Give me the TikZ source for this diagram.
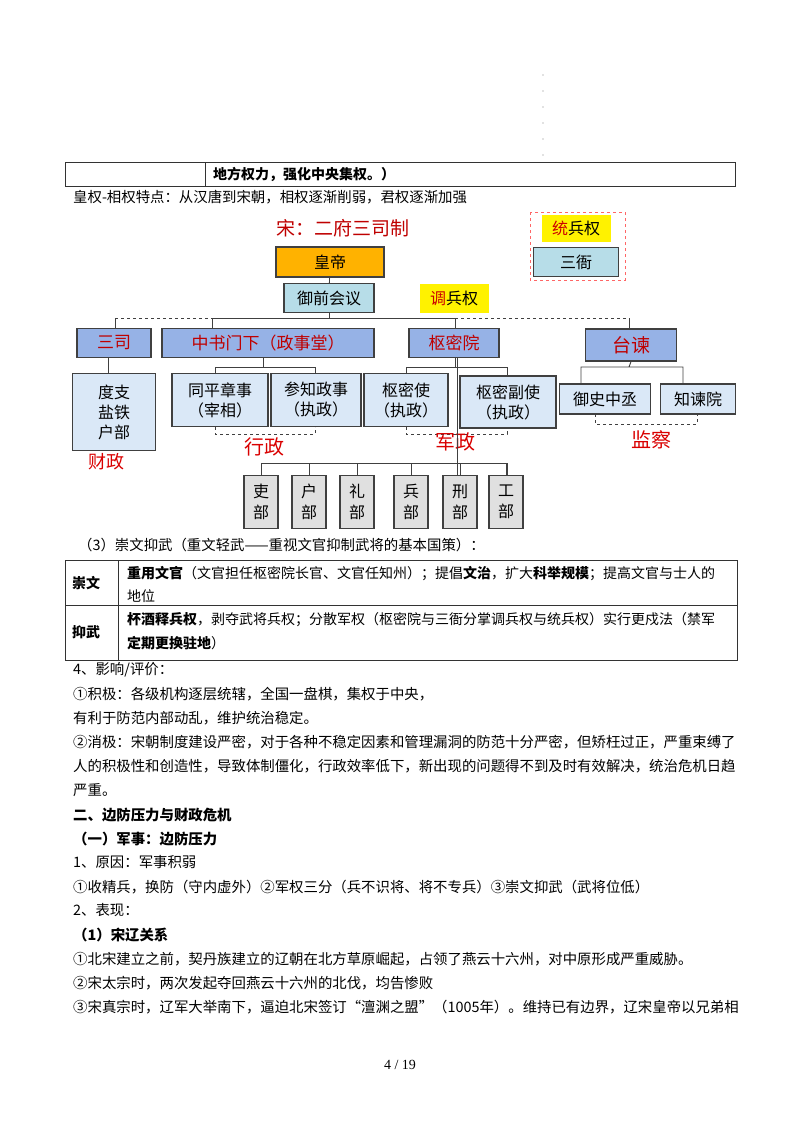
\documentclass[tikz,border=0pt]{standalone}
\usepackage{fontspec}
\setmainfont{Noto Sans CJK SC}
\newfontfamily\serifnum{Liberation Serif}
\definecolor{hdb}{RGB}{150,178,230}
\definecolor{lbb}{RGB}{218,232,247}
\definecolor{cyb}{RGB}{183,221,232}
\begin{document}
\begin{tikzpicture}[x=1pt,y=-1pt,
 t/.style={anchor=west,inner sep=0pt,font=\fontsize{14.4}{14}\selectfont},
 tb/.style={anchor=west,inner sep=0pt,font=\fontsize{14}{14}\selectfont},
 bx/.style={draw=black!75,line width=1.2pt,inner sep=0pt,font=\fontsize{16}{20}\selectfont,align=center},
 lb/.style={bx,fill=lbb},
 hd/.style={bx,fill=hdb,text=red!75!black,font=\fontsize{17}{20}\selectfont},
 gb/.style={bx,fill=black!12,font=\fontsize{16}{21}\selectfont},
 rl/.style={inner sep=0pt,text=red!85!black,font=\fontsize{18}{20}\selectfont},
 ln/.style={black!75,line width=0.9pt},
 dl/.style={ln,dashed}]
\useasboundingbox (0,0) rectangle (800,1132);
% dots
\foreach \yy in {75,91,107,123,139,155} \fill[black!50] (543,\yy) circle (0.6);
% top table row
\draw[black!80,line width=0.7pt] (65,162) rectangle (735,186) (205,162) -- (205,186);
\node[t,font=\fontsize{14}{14}\selectfont\bfseries] (top) at (213,174) {地方权力，强化中央集权。）};
\node[t] (hq) at (73,197) {皇权-相权特点：从汉唐到宋朝，相权逐渐削弱，君权逐渐加强};
% diagram
\node[rl,text=red!75!black,font=\fontsize{19}{20}\selectfont] (title) at (343,228) {宋：二府三司制};
\draw[red!60,dashed,line width=0.6pt] (530,212) rectangle (625,280);
\node[fill=yellow,inner sep=0pt,minimum width=69,minimum height=27,font=\fontsize{16}{18}\selectfont] (tbq) at (576,228) {\textcolor{red!80!black}{统}兵权};
\node[bx,fill=cyb,minimum width=85,minimum height=29] (sy) at (576,262) {三衙};
\node[bx,fill=orange!60!yellow,minimum width=108,minimum height=30] (hd) at (330,262) {皇帝};
\node[bx,fill=cyb,minimum width=90,minimum height=29] (yq) at (329,298) {御前会议};
\node[fill=yellow,inner sep=0pt,minimum width=69,minimum height=29,font=\fontsize{16}{18}\selectfont] (dbq) at (454,298) {\textcolor{red!80!black}{调}兵权};
\draw[ln] (hd) -- (yq);
\coordinate (h1) at (115,318); \coordinate (h2) at (212,318); \coordinate (h3) at (455,318); \coordinate (h4) at (629,318);
\draw[ln] (yq.south) -- (329,318);
\draw[ln] (h2) -- (h3);
\draw[dl] (h1) -- (h2) (h3) -- (h4);
\node[hd,minimum width=74,minimum height=29] (ss) at (114,343) {三司};
\node[hd,minimum width=212,minimum height=29] (zs) at (268,343) {中书门下（政事堂）};
\node[hd,minimum width=90,minimum height=29] (sm) at (454,343) {枢密院};
\node[hd,minimum width=91,minimum height=32,font=\fontsize{19}{20}\selectfont] (tj) at (631,345) {台谏};
\draw[ln] (h1) -- (ss.north -| h1) (h2) -- (zs.north -| h2) (h3) -- (sm.north -| h3) (h4) -- (tj.north -| h4);
% second row
\node[lb,minimum width=83,minimum height=77] (dz) at (114,412) {度支\\盐铁\\户部};
\node[lb,minimum width=96,minimum height=53] (tp) at (220,400) {同平章事\\（宰相）};
\node[lb,minimum width=90,minimum height=53] (cz) at (316,400) {参知政事\\（执政）};
\node[lb,minimum width=84,minimum height=53] (sms) at (406,400) {枢密使\\（执政）};
\node[lb,minimum width=96,minimum height=52] (smf) at (508,402) {枢密副使\\（执政）};
\node[lb,minimum width=91,minimum height=30] (ys) at (605,399) {御史中丞};
\node[lb,minimum width=75,minimum height=30] (zj) at (698,399) {知谏院};
\draw[ln] (ss.south -| 108,0) -- (dz.north -| 108,0);
\draw[ln] (zs.south -| 263,0) -- (263,367) (215,374) -- (215,367) -- (315,367) -- (315,374);
\draw[ln] (455,358) -- (455,367) (406,374) -- (406,367) -- (507,367) -- (507,376);
\draw[ln] (tj.south) -- (629,367) (581,384) -- (581,367) -- (683,367) -- (683,384);
\draw[dl] (215,427) -- (215,434) -- (315,434) -- (315,427);
\draw[dl] (406,427) -- (406,434) -- (507,434) -- (507,428);
\draw[dl] (595,414) -- (595,424) -- (697,424) -- (697,414);
\node[rl] (cz1) at (106,462) {财政};
\node[rl,font=\fontsize{20}{22}\selectfont] (xz) at (264,447) {行政};
\node[rl,font=\fontsize{20}{22}\selectfont] (jz) at (455,442) {军政};
\node[rl,font=\fontsize{20}{22}\selectfont] (jc) at (651,440) {监察};
% six ministries
\draw[ln] (457,358) -- (457,528);
\draw[ln] (261,475) -- (261,463) -- (507,463) -- (507,475);
\foreach \n/\xx/\lab in {lb1/261/吏, hb/309/户, lbb/357/礼, bb/411/兵, xb/460/刑, gbb/506/工}{
  \draw[ln] (\xx,463) -- (\xx,475);
  \node[gb,minimum width=34,minimum height=53] (\n) at (\xx,502) {\lab\\部};
}
% policy text
\node[t] (s3) at (78,545) {（3）崇文抑武（重文轻武——重视文官抑制武将的基本国策）：};
\draw[black!80,line width=0.7pt] (65,560) rectangle (737,660) (118,560) -- (118,660) (65,605) -- (737,605);
\node[tb,font=\fontsize{14}{14}\selectfont\bfseries] (cw) at (72,583) {崇文};
\node[tb,font=\fontsize{14}{14}\selectfont\bfseries] (yw) at (72,632) {抑武};
\node[tb] (r1a) at (127,574) {\textbf{重用文官}（文官担任枢密院长官、文官任知州）；提倡\textbf{文治}，扩大\textbf{科举规模}；提高文官与士人的};
\node[tb] (r1b) at (127,596) {地位};
\node[tb] (r2a) at (127,620) {\textbf{杯酒释兵权}，剥夺武将兵权；分散军权（枢密院与三衙分掌调兵权与统兵权）实行更戍法（禁军};
\node[tb] (r2b) at (127,643) {\textbf{定期更换驻地}）};
\node[t] (l1) at (73,670) {4、影响/评价：};
\node[t] (l2) at (73,694) {①积极：各级机构逐层统辖，全国一盘棋，集权于中央，};
\node[t] (l3) at (73,718) {有利于防范内部动乱，维护统治稳定。};
\node[t] (l4) at (73,742) {②消极：宋朝制度建设严密，对于各种不稳定因素和管理漏洞的防范十分严密，但矫枉过正，严重束缚了};
\node[t] (l5) at (73,766) {人的积极性和创造性，导致体制僵化，行政效率低下，新出现的问题得不到及时有效解决，统治危机日趋};
\node[t] (l6) at (73,790) {严重。};
\node[t,font=\fontsize{14.4}{14}\selectfont\bfseries] (l7) at (73,815) {二、边防压力与财政危机};
\node[t,font=\fontsize{14.4}{14}\selectfont\bfseries] (l8) at (73,839) {（一）军事：边防压力};
\node[t] (l9) at (73,862) {1、原因：军事积弱};
\node[t] (l10) at (73,887) {①收精兵，换防（守内虚外）②军权三分（兵不识将、将不专兵）③崇文抑武（武将位低）};
\node[t] (l11) at (73,910) {2、表现：};
\node[t,font=\fontsize{14.4}{14}\selectfont\bfseries] (l12) at (73,935) {（1）宋辽关系};
\node[t] (l13) at (73,959) {①北宋建立之前，契丹族建立的辽朝在北方草原崛起，占领了燕云十六州，对中原形成严重威胁。};
\node[t] (l14) at (73,983) {②宋太宗时，两次发起夺回燕云十六州的北伐，均告惨败};
\node[t] (l15) at (73,1007) {③宋真宗时，辽军大举南下，逼迫北宋签订“澶渊之盟”（1005年）。维持已有边界，辽宋皇帝以兄弟相};
\node[inner sep=0pt,font=\serifnum\fontsize{14}{14}\selectfont] (pg) at (400,1065) {4 / 19};
\end{tikzpicture}
\end{document}
